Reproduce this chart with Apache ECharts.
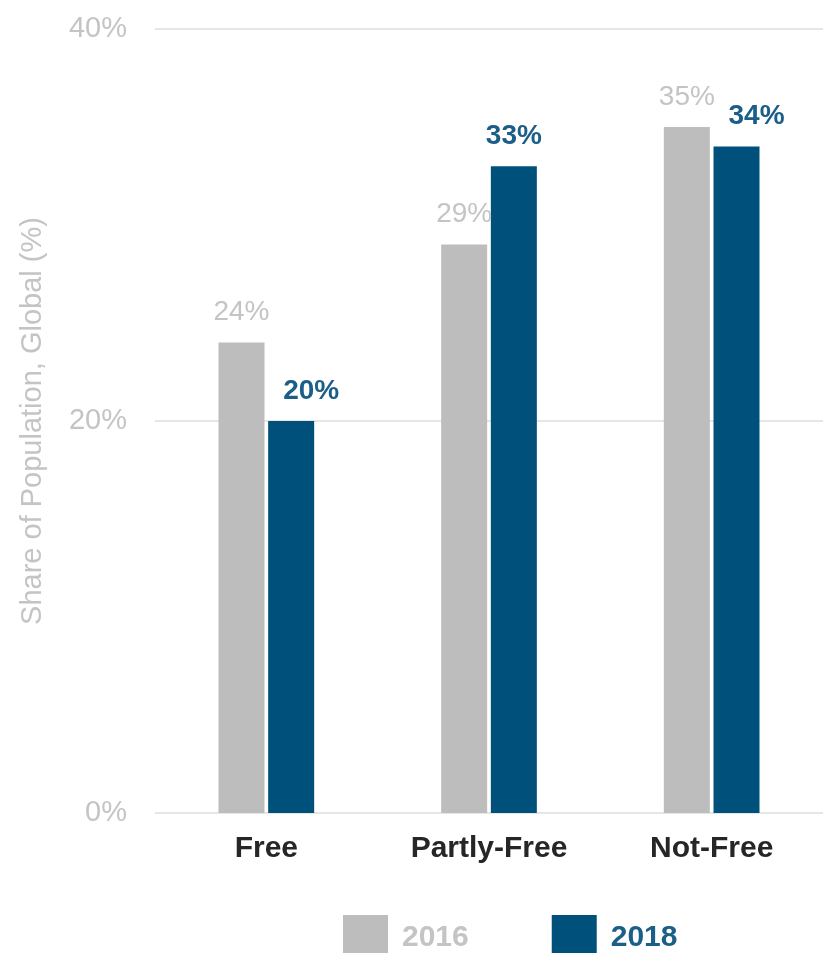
<!DOCTYPE html>
<html>
<head>
<meta charset="utf-8">
<script src="https://cdn.jsdelivr.net/npm/echarts@6/dist/echarts.min.js"></script>
<style>html,body{margin:0;padding:0;background:#fff;}#c{width:823px;height:953px;}</style>
</head>
<body>
<div id="c"></div>
<script>
const categories = ['Free', 'Partly-Free', 'Not-Free'];
const seriesNames = ['2016', '2018'];
const values2016 = [24, 29, 35];
const values2018 = [20, 33, 34];
const yTicks = [0, 20, 40];

const GRAY = '#bdbdbd';
const NAVY = '#00507c';
const FONT = '"Liberation Sans", Arial, sans-serif';

const chart = echarts.init(document.getElementById('c'));
chart.setOption({
  animation: false,
  grid: { left: 155, width: 675, top: 29, bottom: 140, containLabel: false },
  legend: {
    top: 910, left: 338,
    icon: 'rect', itemWidth: 45, itemHeight: 45, itemGap: 83,
    textStyle: { fontFamily: FONT, fontSize: 30, fontWeight: 'bold', padding: [0, 0, 0, 9] },
    data: [
      { name: seriesNames[0], textStyle: { color: '#c4c4c4' } },
      { name: seriesNames[1], textStyle: { color: '#1b5e87' } }
    ]
  },
  xAxis: {
    type: 'category', data: categories,
    axisLine: { show: false }, axisTick: { show: false },
    axisLabel: { fontFamily: FONT, fontSize: 30, fontWeight: 'bold', color: '#262626', margin: 21 }
  },
  yAxis: {
    type: 'value', min: yTicks[0], max: yTicks[yTicks.length - 1], interval: yTicks[1] - yTicks[0],
    name: 'Share of Population, Global (%)', nameLocation: 'middle', nameGap: 108,
    nameTextStyle: { fontFamily: FONT, fontSize: 29, color: '#c4c4c4' },
    axisLine: { show: false }, axisTick: { show: false },
    splitLine: { lineStyle: { color: '#e6e6e6', width: 2 } },
    axisLabel: { formatter: '{value}%', fontFamily: FONT, fontSize: 29, color: '#c4c4c4', margin: 28 }
  },
  series: [
    {
      name: seriesNames[0], type: 'bar', data: values2016,
      barWidth: 46, barGap: '8%',
      itemStyle: { color: GRAY },
      label: { show: true, position: 'top', distance: 16, formatter: '{c}%', fontFamily: FONT, fontSize: 28, color: '#c4c4c4' }
    },
    {
      name: seriesNames[1], type: 'bar',
      data: values2018.map((v, i) => ({ value: v, label: { offset: v < values2016[i] ? [20, 0] : [0, 0] } })),
      barWidth: 46,
      itemStyle: { color: NAVY },
      label: { show: true, position: 'top', distance: 16, formatter: '{c}%', fontFamily: FONT, fontSize: 28, fontWeight: 'bold', color: '#1b5e87' }
    }
  ]
});
</script>
</body>
</html>
